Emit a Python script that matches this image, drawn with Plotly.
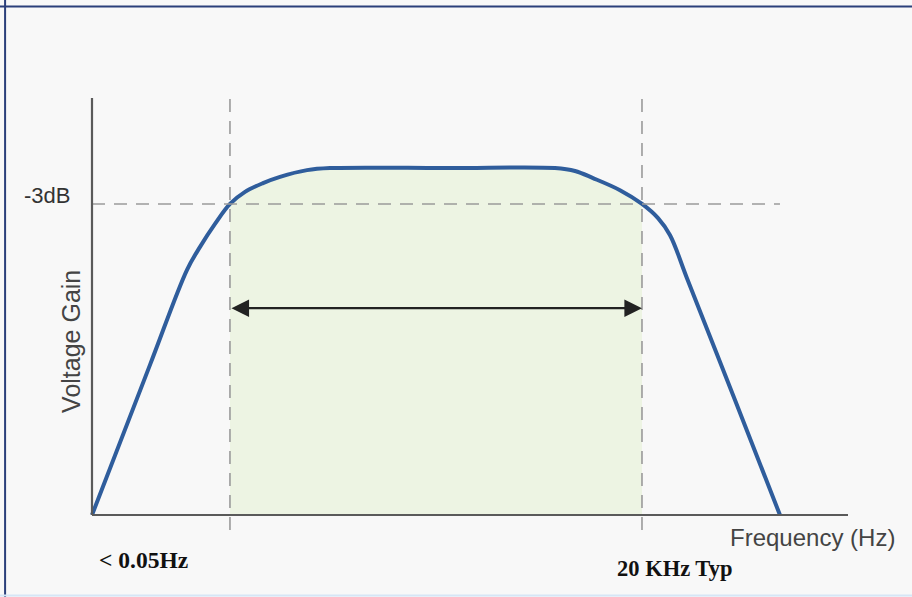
import plotly.graph_objects as go

# ---- data (arbitrary frequency units, normalised gain) ----
freq = [0, 7.67, 12.57, 14.29, 16.27, 18.25, 20.24, 22.62, 24.87, 28.44, 31.48, 47.35,
        61.24, 63.89, 66.27, 69.84, 72.75, 74.87, 76.46, 78.70, 85.05, 91.0]
gain = [0, 0.36, 0.588, 0.643, 0.698, 0.746, 0.775, 0.796, 0.811, 0.827, 0.832, 0.832,
        0.832, 0.825, 0.808, 0.779, 0.746, 0.712, 0.671, 0.568, 0.276, 0]
f_low = 18.25
f_high = 72.75
gain_3db = 0.746
x_axis_end = 100
y_axis_top = 1.0

# band-pass fill region taken from the curve itself
band_x = [f for f in freq if f_low <= f <= f_high]
band_y = [g for f, g in zip(freq, gain) if f_low <= f <= f_high]

curve_color = "#2f5d9c"
fig = go.Figure()
fig.add_trace(go.Scatter(x=band_x, y=band_y, mode="lines", line=dict(width=0, shape="spline", smoothing=1.0),
                         fill="tozeroy", fillcolor="#edf4e3", hoverinfo="skip", showlegend=False))
fig.add_trace(go.Scatter(x=freq, y=gain, mode="lines",
                         line=dict(color=curve_color, width=4, shape="spline", smoothing=1.0),
                         showlegend=False))

dash_style = dict(color="#9a9a9a", width=1.6, dash="13px,9px")
shapes = [
    # dashed guides
    dict(type="line", xref="x", yref="y", x0=f_low, x1=f_low, y0=-0.036, y1=1.01, line=dash_style),
    dict(type="line", xref="x", yref="y", x0=f_high, x1=f_high, y0=-0.036, y1=1.01, line=dash_style),
    dict(type="line", xref="x", yref="y", x0=0, x1=freq[-1], y0=gain_3db, y1=gain_3db, line=dash_style),
    # axes
    dict(type="line", xref="x", yref="y", x0=0, x1=0, y0=0, y1=y_axis_top, line=dict(color="#5a5a5a", width=2.2)),
    dict(type="line", xref="x", yref="y", x0=0, x1=x_axis_end, y0=0, y1=0, line=dict(color="#5a5a5a", width=2.2)),
    # frame
    dict(type="line", xref="paper", yref="paper", x0=-0.1, x1=1.1, y0=1.172, y1=1.172, line=dict(color="#2b3f7a", width=2)),
    dict(type="line", xref="paper", yref="paper", x0=-0.066, x1=-0.066, y0=-0.2, y1=1.2, line=dict(color="#2b3f7a", width=2)),
    dict(type="line", xref="paper", yref="paper", x0=-0.1, x1=1.1, y0=-0.117, y1=-0.117, line=dict(color="#d6e6f6", width=2)),
]
fig.update_layout(shapes=shapes)

arrow_y = 0.496
fig.add_annotation(x=f_high, y=arrow_y, ax=f_low, ay=arrow_y, xref="x", yref="y", axref="x", ayref="y",
                   text="", showarrow=True, arrowhead=2, arrowside="end+start", arrowsize=1.6,
                   arrowwidth=2.2, arrowcolor="#222222")

sans = "Liberation Sans, Arial"
serif = "Liberation Serif, Times New Roman"
labels = [
    dict(x=-0.0156, y=0.759, text="-3dB", font=dict(family=sans, size=22, color="#333333")),
    dict(x=0.0132, y=0.44, text="Voltage Gain", textangle=-90, font=dict(family=sans, size=25, color="#444444")),
    dict(x=0.904, y=0.009, text="Frequency (Hz)", font=dict(family=sans, size=24, color="#444444")),
    dict(x=0.0998, y=-0.0394, text="<b>&lt; 0.05Hz</b>", font=dict(family=serif, size=23.5, color="#111111")),
    dict(x=0.739, y=-0.057, text="<b>20 KHz Typ</b>", font=dict(family=serif, size=22.5, color="#111111")),
]
for lab in labels:
    fig.add_annotation(xref="paper", yref="paper", showarrow=False, xanchor="center", yanchor="middle", **lab)

fig.update_xaxes(range=[-4.233, 105.82], visible=False, fixedrange=True)
fig.update_yaxes(range=[-0.0647, 1.0312], visible=False, fixedrange=True)
fig.update_layout(width=912, height=597, margin=dict(l=60, r=20, t=85, b=55),
                  paper_bgcolor="#f8f8f8", plot_bgcolor="rgba(0,0,0,0)", showlegend=False)
fig.write_html("out.html", config={"displayModeBar": False},
               post_script="document.body.style.margin='0';document.body.style.overflow='hidden';")
